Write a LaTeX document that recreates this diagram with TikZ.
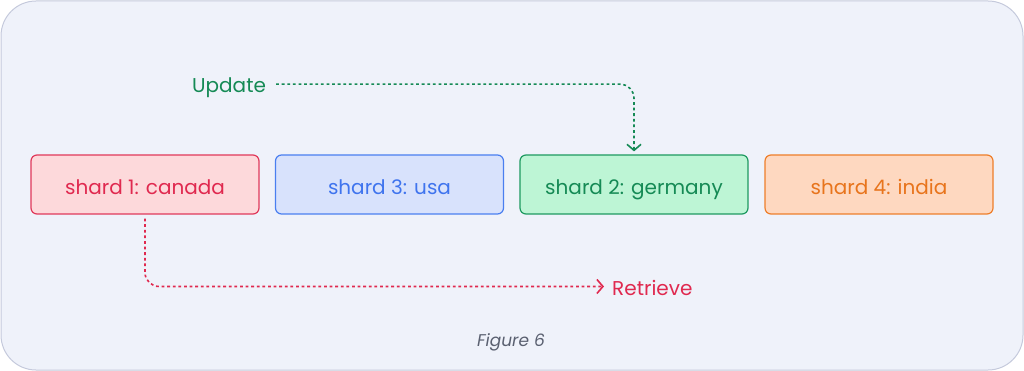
\documentclass[tikz,border=0pt]{standalone}
\usepackage{fontspec}
\setmainfont{Poppins}
\usetikzlibrary{arrows.meta}
\definecolor{bgfill}{HTML}{EFF2FA}
\definecolor{bgline}{HTML}{C5CADC}
\definecolor{rfill}{HTML}{FDD9DB}
\definecolor{rline}{HTML}{E0395A}
\definecolor{rtext}{HTML}{E0294F}
\definecolor{bfill}{HTML}{D8E2FC}
\definecolor{bline}{HTML}{4A7FF0}
\definecolor{btext}{HTML}{3F74EE}
\definecolor{gfill}{HTML}{BDF5D5}
\definecolor{gline}{HTML}{1E9A60}
\definecolor{gtext}{HTML}{158A55}
\definecolor{ofill}{HTML}{FED8C0}
\definecolor{oline}{HTML}{EE7E2A}
\definecolor{otext}{HTML}{E8741C}
\definecolor{figtext}{HTML}{5A6070}
\tikzset{
  shardbox/.style={draw, rounded corners=6pt, line width=1.2pt, minimum width=228pt, minimum height=59pt, inner sep=0pt, text height=20pt, text depth=0pt, font=\fontsize{20}{24}\selectfont},
  flow/.style={line width=1.6pt, dash pattern=on 2.8pt off 2.8pt, rounded corners=14pt, -{Straight Barb[length=6pt,width=14pt,line width=1.6pt]}},
  lbl/.style={inner sep=0pt, font=\fontsize{20}{24}\selectfont}
}
\begin{document}
\begin{tikzpicture}[x=1pt,y=-1pt]
\useasboundingbox (0,0) rectangle (1024,371);
\draw[fill=bgfill, draw=bgline, line width=1pt, rounded corners=35pt] (1,1) rectangle (1023,370);
\node[shardbox, fill=rfill, draw=rline, text=rtext] (s1) at (145,184.5) {shard 1: canada};
\node[shardbox, fill=bfill, draw=bline, text=btext] (s3) at (389.5,184.5) {shard 3: usa};
\node[shardbox, fill=gfill, draw=gline, text=gtext] (s2) at (634,184.5) {shard 2: germany};
\node[shardbox, fill=ofill, draw=oline, text=otext] (s4) at (879,184.5) {shard 4: india};
\node[lbl, text=gtext, anchor=base west] (upd) at (192,93) {Update};
\node[lbl, text=rtext, anchor=base west] (ret) at (612,295) {Retrieve};
\coordinate (uend) at ([yshift=3pt]s2.north);
\coordinate (ustart) at ([xshift=10pt,yshift=4pt]upd.east);
\draw[flow, draw=gtext] (ustart) -| (uend);
\coordinate (rstart) at ([yshift=-4pt]s1.south);
\coordinate (rend) at ([xshift=-8pt,yshift=1pt]ret.west);
\draw[flow, draw=rtext] (rstart) |- (rend);
\node[font=\itshape\fontsize{17}{20}\selectfont, text=figtext] (fig) at (511,342) {Figure 6};
\end{tikzpicture}
\end{document}
